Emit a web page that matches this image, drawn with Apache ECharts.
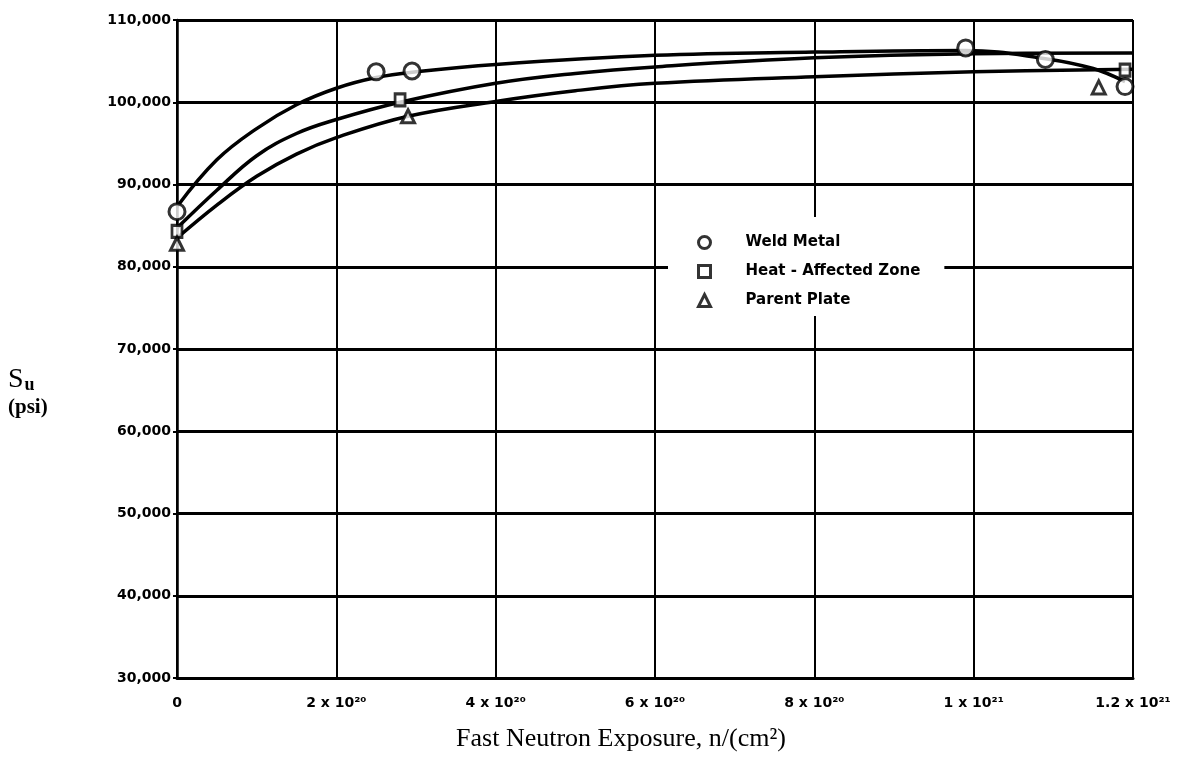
<!DOCTYPE html>
<html>
<head>
<meta charset="utf-8">
<script src="https://cdn.jsdelivr.net/npm/echarts@6/dist/echarts.min.js"></script>
<style>
  html, body { margin: 0; padding: 0; background: #fff; }
  #chart { width: 1186px; height: 757px; }
</style>
</head>
<body>
<div id="chart"></div>
<script>
// Fast neutron exposure in units of 1e20 n/cm^2, ultimate strength in psi
const xTickValues = [0, 2, 4, 6, 8, 10, 12];
const xTickLabels = ['0', '2 x 10²⁰', '4 x 10²⁰', '6 x 10²⁰', '8 x 10²⁰', '1 x 10²¹', '1.2 x 10²¹'];
const yTickValues = [30000, 40000, 50000, 60000, 70000, 80000, 90000, 100000, 110000];

const seriesNames = ['Weld Metal', 'Heat - Affected Zone', 'Parent Plate'];

// measured specimens
const weldX = [0, 2.5, 2.95, 9.9, 10.9, 11.9];
const weldY = [86700, 103700, 103800, 106600, 105200, 101900];
const hazX = [0, 2.8, 11.9];
const hazY = [84300, 100300, 103900];
const plateX = [0, 2.9, 11.57];
const plateY = [82800, 98300, 101800];

// hand-faired trend curves through each material's data
const weldCurveX = [0, 0.5, 1.0, 1.5, 2.0, 2.5, 3.0, 4.0, 6.0, 8.0, 9.9, 10.9, 11.5, 11.9];
const weldCurveY = [87300, 93000, 96800, 99700, 101700, 103000, 103700, 104600, 105700, 106100, 106300, 105300, 104100, 102500];
const hazCurveX = [0, 0.5, 1.0, 1.5, 2.0, 2.8, 4.0, 5.0, 6.0, 8.0, 10.0, 12.0];
const hazCurveY = [84700, 89300, 93500, 96200, 97900, 100000, 102300, 103500, 104300, 105400, 105900, 106000];
const plateCurveX = [0, 0.5, 1.0, 1.5, 2.0, 2.9, 4.0, 5.0, 6.0, 8.0, 10.0, 12.0];
const plateCurveY = [83500, 87500, 91000, 93700, 95700, 98300, 100100, 101400, 102300, 103100, 103700, 104000];

const pair = (xs, ys) => xs.map((x, i) => [x, ys[i]]);

const markerStyle = { color: '#fff', borderColor: '#000', borderWidth: 3 };
const curve = (xs, ys) => ({
  type: 'line',
  data: pair(xs, ys),
  smooth: 0.4,
  showSymbol: false,
  silent: true,
  lineStyle: { color: '#000', width: 3.5 },
  z: 3
});
const points = (name, symbol, size, xs, ys) => ({
  type: 'scatter',
  name: name,
  symbol: symbol,
  symbolSize: size,
  data: pair(xs, ys),
  itemStyle: markerStyle,
  z: 5
});

const labelFont = 'DejaVu Sans';
const chart = echarts.init(document.getElementById('chart'), null, { renderer: 'canvas' });

chart.setOption({
  animation: false,
  backgroundColor: '#fff',
  grid: { left: 177, right: 53, top: 20, bottom: 78, containLabel: false },
  xAxis: {
    type: 'value',
    min: 0,
    max: 12,
    interval: 2,
    name: 'Fast Neutron Exposure, n/(cm²)',
    nameLocation: 'middle',
    nameGap: 48,
    nameTextStyle: {
      fontFamily: 'Liberation Serif', fontSize: 26, color: '#000',
      padding: [0, 68, 0, 0]
    },
    axisLine: { show: true, lineStyle: { color: '#000', width: 3 } },
    axisTick: { show: false },
    axisLabel: {
      margin: 18,
      color: '#000',
      fontFamily: labelFont,
      fontWeight: 'bold',
      fontSize: 14,
      formatter: v => xTickLabels[xTickValues.indexOf(v)]
    },
    splitLine: { show: true, lineStyle: { color: '#000', width: 2 } }
  },
  yAxis: {
    type: 'value',
    min: 30000,
    max: 110000,
    interval: 10000,
    axisLine: { show: true, lineStyle: { color: '#000', width: 2.5 } },
    axisTick: { show: true, length: 4, lineStyle: { color: '#000', width: 2 } },
    axisLabel: {
      margin: 6,
      color: '#000',
      fontFamily: labelFont,
      fontWeight: 'bold',
      fontSize: 14,
      formatter: v => yTickValues.includes(v) ? v.toLocaleString('en-US') : ''
    },
    splitLine: { show: true, lineStyle: { color: '#000', width: 3 } }
  },
  legend: {
    orient: 'vertical',
    left: 668,
    top: 217,
    padding: [18, 24, 8, 29],
    itemGap: 14,
    itemWidth: 12,
    itemHeight: 12,
    backgroundColor: '#fff',
    selectedMode: false,
    itemStyle: { color: '#fff', borderColor: '#000', borderWidth: 3 },
    textStyle: {
      color: '#000', fontFamily: labelFont, fontWeight: 'bold', fontSize: 15,
      padding: [0, 0, 0, 30]
    },
    data: [
      { name: seriesNames[0], icon: 'circle' },
      { name: seriesNames[1], icon: 'rect' },
      { name: seriesNames[2], icon: 'triangle' }
    ],
    z: 10
  },
  graphic: [{
    type: 'text',
    left: 8,
    top: 366,
    style: {
      text: '{s|S}{u|u}\n{p|(psi)}',
      rich: {
        s: { fontFamily: 'Liberation Serif', fontSize: 28, fill: '#000', lineHeight: 30 },
        u: { fontFamily: 'Liberation Serif', fontSize: 18, fontWeight: 'bold', fill: '#000', padding: [10, 0, 0, 1] },
        p: { fontFamily: 'Liberation Serif', fontSize: 21, fontWeight: 'bold', fill: '#000', lineHeight: 26 }
      }
    }
  }],
  series: [
    curve(weldCurveX, weldCurveY),
    curve(hazCurveX, hazCurveY),
    curve(plateCurveX, plateCurveY),
    points(seriesNames[0], 'circle', 16, weldX, weldY),
    points(seriesNames[1], 'rect', [10, 12], hazX, hazY),
    points(seriesNames[2], 'triangle', 13, plateX, plateY)
  ]
});
</script>
</body>
</html>
